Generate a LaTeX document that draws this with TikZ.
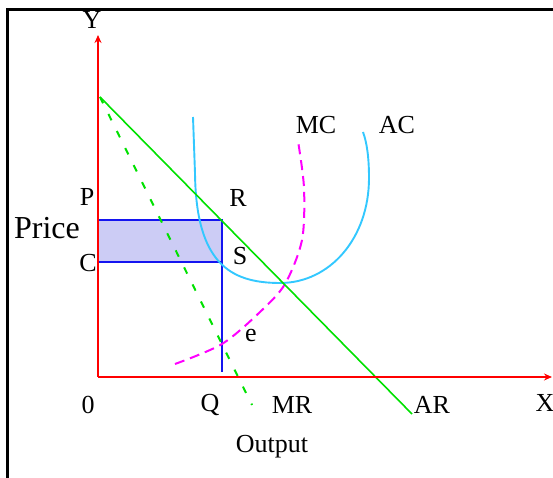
\documentclass[tikz,border=0pt]{standalone}
\usepackage{fontspec}
\setmainfont{Liberation Serif}
\usepackage{xcolor}
\usepackage{tikz}
\usetikzlibrary{arrows.meta}
\usetikzlibrary{positioning}
\definecolor{costcyan}{RGB}{51,200,255}
\definecolor{revgreen}{RGB}{0,225,0}
\definecolor{mcpink}{RGB}{255,0,255}
\definecolor{qblue}{RGB}{20,20,240}
\definecolor{profitfill}{RGB}{204,204,245}
\newcommand{\lblsize}{\fontsize{26}{28}\selectfont}

\begin{document}
\begin{tikzpicture}[x=1pt,y=1pt,
  lbl/.style={font=\lblsize, inner sep=0pt},
  axisline/.style={red, line width=2.6pt, -{Stealth[length=8pt,width=7pt]}},
  qline/.style={qblue, line width=2.6pt},
  arline/.style={revgreen, line width=1.6pt},
  mrline/.style={revgreen, line width=2pt, dash pattern=on 7pt off 12pt},
  mcline/.style={mcpink, line width=2pt, dash pattern=on 10pt off 6pt},
  acline/.style={costcyan, line width=1.9pt}]
  \useasboundingbox (0,0) rectangle (553,478);
  \draw[line width=3pt] (7.5,0) -- (7.5,468.5) -- (553,468.5);
  \coordinate (O) at (98,101);
  \coordinate (ytop) at (98,443);
  \coordinate (xend) at (552,101);
  \coordinate (P0) at (98,258);
  \coordinate (R) at (222,258);
  \coordinate (C0) at (98,216);
  \coordinate (S) at (222,216);
  \coordinate (Q0) at (222,106);
  \coordinate (arA) at (100,381);
  \coordinate (arB) at (412,64);
  \coordinate (mrA) at (100,381);
  \coordinate (mrB) at (252,73);
  \fill[profitfill] (P0) rectangle (S);
  \draw[qline] (P0) -- (R) -- (Q0);
  \draw[qline] (C0) -- (S);
  \draw[acline] (193,361) -- (195,305) .. controls (196,215) and (230,195) .. (280,195)
    .. controls (330,195) and (369,240) .. (369,300) .. controls (369,320) and (367,335) .. (363,346);
  \draw[mcline] plot[smooth] coordinates {(175,114) (222,134) (260,166) (285,194) (302,238) (304,290) (298,337)};
  \draw[mrline] (mrA) -- (mrB);
  \draw[arline] (arA) -- (arB);
  \draw[axisline] (O) -- (ytop);
  \draw[axisline] (O) -- (xend);
  \node[lbl] (ylab) at (92,458) {Y};
  \node[lbl] (xlab) at (545,75) {X};
  \foreach \t/\x in {0/88,Q/210,MR/292,AR/432} \node[lbl] (b\t) at (\x,73) {\t};
  \node[lbl] (outlab) at (272,31) {Output};
  \node[lbl] (plab) at (87,281) {P};
  \node[font=\fontsize{32}{34}\selectfont, inner sep=0pt] (pricelab) at (47,250) {Price};
  \node[lbl] (clab) at (88,215) {C};
  \node[lbl] (rlab) at (238,280) {R};
  \node[lbl] (slab) at (240,222) {S};
  \node[lbl] (elab) at (251,142) {e};
  \node[lbl] (mclab) at (316,353) {MC};
  \node[lbl] (aclab) at (397,353) {AC};
\end{tikzpicture}
\end{document}
